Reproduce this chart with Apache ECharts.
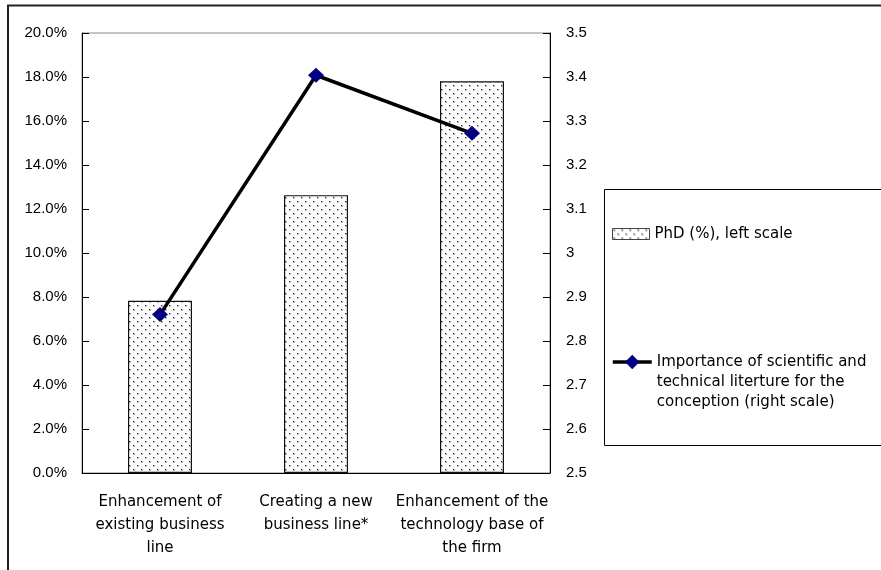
<!DOCTYPE html>
<html>
<head>
<meta charset="utf-8">
<style>
html,body{margin:0;padding:0;background:#fff;}
#chart{width:881px;height:570px;}
</style>
<script src="https://cdn.jsdelivr.net/npm/echarts@6/dist/echarts.min.js"></script>
</head>
<body>
<div id="chart"></div>
<script>
// ---- data ----
const categories = [
  'Enhancement of\nexisting business\nline',
  'Creating a new\nbusiness line*',
  'Enhancement of the\ntechnology base of\nthe firm'
];
const phdShare = [7.83, 12.63, 17.81];            // %, left scale
const literatureImportance = [2.86, 3.404, 3.272]; // right scale
const barName = 'PhD (%), left scale';
const lineName = 'Importance of scientific and technical literture for the conception (right scale)';
const lineLegendLines = ['Importance of scientific and', 'technical literture for the', 'conception (right scale)'];

// dotted pattern
function makePattern() {
  const c = document.createElement('canvas');
  c.width = 8; c.height = 8;
  const g = c.getContext('2d');
  g.fillStyle = '#fff';
  g.fillRect(0, 0, 8, 8);
  const dot = (x, y) => {
    g.fillStyle = '#bbb';
    g.fillRect(x, y, 2, 2);
    g.fillStyle = '#222';
    g.fillRect(x, y, 1, 1);
  };
  dot(1, 1);
  dot(5, 5);
  return c;
}
const pattern = { image: makePattern(), repeat: 'repeat' };

const chart = echarts.init(document.getElementById('chart'), null, { renderer: 'canvas' });
const labelFont = 'DejaVu Sans';
const axisFont = 'Liberation Sans';

chart.setOption({
  backgroundColor: '#fff',
  animation: false,
  graphic: [
    { type: 'rect', shape: { x: 8, y: 5.5, width: 1000, height: 1000 },
      style: { fill: 'none', stroke: '#222', lineWidth: 2 }, z: 0 },
    { type: 'rect', shape: { x: 604.5, y: 189.5, width: 400, height: 256 },
      style: { fill: '#fff', stroke: '#000', lineWidth: 1 }, z: 0 }
  ],
  grid: {
    left: 82, top: 33, width: 468, height: 440,
    show: true, borderColor: '#888', borderWidth: 1, backgroundColor: 'transparent'
  },
  legend: [
    {
      data: [{ name: barName, icon: 'rect' }], left: 612, top: 224, orient: 'vertical',
      itemWidth: 37, itemHeight: 11, padding: 0,
      itemStyle: { borderColor: '#444', borderWidth: 1 },
      textStyle: { fontFamily: labelFont, fontSize: 15, color: '#000', lineHeight: 20 },
      z: 5
    },
    {
      data: [lineName], left: 611, top: 312, orient: 'vertical',
      itemWidth: 39, itemHeight: 18, padding: 0,
      lineStyle: { width: 3.5, color: '#000' },
      formatter: () => '\n\n' + lineLegendLines.join('\n'),
      textStyle: { fontFamily: labelFont, fontSize: 15, color: '#000', lineHeight: 20 },
      z: 5
    }
  ],
  xAxis: {
    type: 'category',
    data: categories,
    axisLine: { lineStyle: { color: '#000', width: 1 } },
    axisTick: { inside: true, length: 4, lineStyle: { color: '#000' } },
    axisLabel: {
      interval: 0, margin: 18, fontFamily: labelFont, fontSize: 15,
      color: '#000', lineHeight: 23, align: 'center'
    }
  },
  yAxis: [
    {
      type: 'value', min: 0, max: 20, interval: 2, position: 'left',
      axisLine: { show: true, lineStyle: { color: '#000' } },
      axisTick: { show: true, inside: true, length: 7, lineStyle: { color: '#000' } },
      splitLine: { show: false },
      axisLabel: { margin: 15, fontFamily: axisFont, fontSize: 15, color: '#000',
        formatter: v => v.toFixed(1) + '%' }
    },
    {
      type: 'value', min: 2.5, max: 3.5, interval: 0.1, position: 'right',
      axisLine: { show: true, lineStyle: { color: '#000' } },
      axisTick: { show: true, inside: true, length: 7, lineStyle: { color: '#000' } },
      splitLine: { show: false },
      axisLabel: { margin: 16, fontFamily: axisFont, fontSize: 15, color: '#000',
        formatter: v => String(Math.round(v * 10) / 10) }
    }
  ],
  series: [
    {
      name: barName, type: 'bar', yAxisIndex: 0, data: phdShare,
      barWidth: 64,
      itemStyle: { color: pattern, borderColor: '#111', borderWidth: 1.2 },
      z: 2
    },
    {
      name: lineName, type: 'line', yAxisIndex: 1, data: literatureImportance,
      symbol: 'diamond', symbolSize: [16, 15],
      lineStyle: { color: '#000', width: 3.5 },
      itemStyle: { color: '#000080' },
      z: 3
    }
  ]
});
</script>
</body>
</html>
